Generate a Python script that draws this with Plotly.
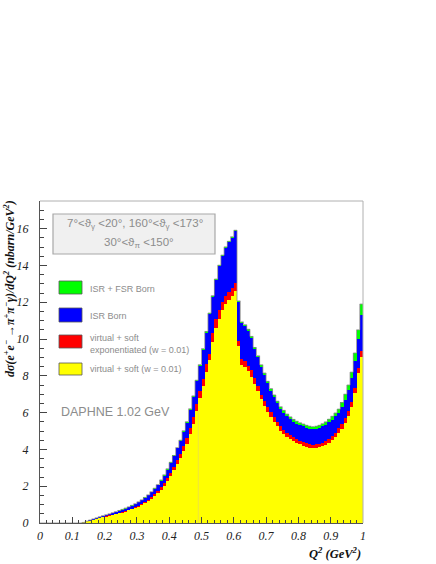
import numpy as np
import plotly.graph_objects as go

# bin layout: 100 bins of width 0.01 on Q^2 in [0, 1]
bin_width = 0.01
q2_centers = [round(0.005 + 0.01 * i, 3) for i in range(100)]

zeros13 = [0.0] * 13

# ISR + FSR Born (green)
isr_fsr_born = zeros13 + [
    0.03, 0.10, 0.16, 0.22, 0.28, 0.34, 0.40, 0.45, 0.50, 0.56,
    0.62, 0.68, 0.74, 0.81, 0.88, 0.96, 1.05, 1.15, 1.26, 1.39,
    1.53, 1.70, 1.89, 2.09, 2.34, 2.62, 2.95, 3.30, 3.67, 4.10,
    4.50, 5.02, 5.51, 6.21, 6.91, 7.76, 8.61, 9.48, 10.41, 11.41,
    12.36, 13.26, 14.01, 14.56, 15.01, 15.31, 15.56, 15.91, 12.07, 10.93,
    10.78, 10.53, 10.14, 9.54, 9.09, 8.60, 8.15, 7.70, 7.31, 6.96,
    6.62, 6.32, 6.12, 5.92, 5.77, 5.63, 5.53, 5.45, 5.38, 5.31,
    5.26, 5.24, 5.26, 5.31, 5.40, 5.50, 5.64, 5.80, 5.98, 6.19,
    6.55, 7.00, 7.50, 8.20, 9.24, 10.50, 11.90]

# ISR Born (blue)
isr_born = zeros13 + [
    0.02, 0.08, 0.14, 0.20, 0.26, 0.32, 0.38, 0.43, 0.48, 0.53,
    0.59, 0.65, 0.71, 0.78, 0.85, 0.93, 1.02, 1.12, 1.23, 1.36,
    1.50, 1.66, 1.85, 2.05, 2.30, 2.58, 2.90, 3.25, 3.62, 4.05,
    4.45, 4.97, 5.45, 6.15, 6.85, 7.70, 8.55, 9.42, 10.35, 11.35,
    12.30, 13.20, 13.95, 14.50, 14.95, 15.25, 15.50, 15.85, 12.00, 10.85,
    10.70, 10.45, 10.05, 9.45, 9.00, 8.50, 8.05, 7.60, 7.20, 6.85,
    6.50, 6.20, 6.00, 5.80, 5.65, 5.50, 5.40, 5.32, 5.25, 5.18,
    5.13, 5.10, 5.12, 5.17, 5.25, 5.35, 5.48, 5.62, 5.80, 5.97,
    6.30, 6.70, 7.24, 7.90, 8.80, 10.00, 11.30]

# virtual + soft exponentiated (red)
virt_soft_exp = zeros13 + [
    0.02, 0.08, 0.13, 0.18, 0.22, 0.27, 0.32, 0.37, 0.41, 0.45,
    0.50, 0.55, 0.60, 0.66, 0.72, 0.78, 0.86, 0.93, 1.03, 1.13,
    1.25, 1.39, 1.55, 1.72, 1.93, 2.16, 2.43, 2.73, 3.05, 3.40,
    3.75, 4.18, 4.60, 5.15, 5.75, 6.45, 7.15, 7.85, 8.62, 9.20,
    10.35, 11.10, 11.55, 12.00, 12.35, 12.55, 12.75, 13.05, 9.90, 8.90,
    8.78, 8.55, 8.30, 7.88, 7.42, 6.97, 6.62, 6.30, 6.02, 5.75,
    5.48, 5.25, 5.05, 4.88, 4.76, 4.67, 4.56, 4.48, 4.38, 4.33,
    4.27, 4.25, 4.28, 4.31, 4.36, 4.43, 4.57, 4.73, 4.90, 5.15,
    5.38, 5.72, 6.10, 6.60, 7.33, 8.40, 9.33]

# virtual + soft (yellow)
virt_soft = zeros13 + [
    0.02, 0.07, 0.12, 0.17, 0.21, 0.26, 0.31, 0.35, 0.39, 0.43,
    0.47, 0.52, 0.57, 0.62, 0.68, 0.74, 0.81, 0.88, 0.97, 1.07,
    1.18, 1.31, 1.46, 1.62, 1.81, 2.03, 2.28, 2.56, 2.86, 3.19,
    3.52, 3.92, 4.31, 4.85, 5.40, 6.08, 6.80, 7.42, 8.20, 8.85,
    9.85, 10.60, 11.10, 11.55, 11.90, 12.10, 12.35, 12.60, 9.60, 8.60,
    8.48, 8.25, 7.95, 7.55, 7.15, 6.72, 6.35, 6.05, 5.78, 5.50,
    5.25, 5.02, 4.84, 4.66, 4.55, 4.45, 4.34, 4.27, 4.18, 4.14,
    4.09, 4.08, 4.10, 4.12, 4.17, 4.24, 4.36, 4.50, 4.66, 4.90,
    5.12, 5.45, 5.82, 6.33, 7.06, 8.15, 9.00]

x_ticks = [0, 0.1, 0.2, 0.3, 0.4, 0.5, 0.6, 0.7, 0.8, 0.9, 1]
x_ticklabels = ["0", "0.1", "0.2", "0.3", "0.4", "0.5", "0.6", "0.7", "0.8", "0.9", "1"]
y_ticks = [0, 2, 4, 6, 8, 10, 12, 14, 16]
y_ticklabels = [str(v) for v in y_ticks]

series = [
    ("ISR + FSR Born", isr_fsr_born, "#00ff00"),
    ("ISR Born", isr_born, "#0000ff"),
    ("virtual + soft exponentiated (w = 0.01)", virt_soft_exp, "#ff0000"),
    ("virtual + soft (w = 0.01)", virt_soft, "#ffff00"),
]

fig = go.Figure()
for name, vals, col in series:
    fig.add_trace(go.Bar(x=q2_centers, y=vals, width=bin_width, name=name,
                         marker=dict(color=col, line=dict(width=0)),
                         showlegend=False))

# outline of the outermost histogram
edges = [round(0.01 * i, 2) for i in range(101)]
fig.add_trace(go.Scatter(x=edges, y=isr_fsr_born + [isr_fsr_born[-1]], mode="lines",
                         line=dict(color="#8a8a8a", width=0.8, shape="hv"),
                         showlegend=False, hoverinfo="skip"))

# faint seam visible inside the yellow area at a bin edge
seam_bin = 49
fig.add_trace(go.Scatter(x=[edges[seam_bin], edges[seam_bin]], y=[0, virt_soft[seam_bin - 1]],
                         mode="lines", line=dict(color="#eadc50", width=0.8),
                         showlegend=False, hoverinfo="skip"))

L, R, T, B = 40, 73, 201, 41
W, H = 436, 564
pw, ph = W - L - R, H - T - B

def px(xp):
    return (xp - L) / pw

def py(yp):
    return (H - B - yp) / ph

tickfont = dict(family="Liberation Serif", size=12, color="#222", style="italic")

fig.update_layout(
    width=W, height=H,
    margin=dict(l=L, r=R, t=T, b=B, pad=0),
    paper_bgcolor="white", plot_bgcolor="white",
    barmode="overlay", bargap=0,
    xaxis=dict(range=[0, 1], tickvals=x_ticks, ticktext=x_ticklabels,
               ticks="inside", ticklen=6, tickcolor="#444", tickwidth=1,
               minor=dict(dtick=0.02, ticks="inside", ticklen=3, tickcolor="#444"),
               showgrid=False, zeroline=False, showline=True, linecolor="#555",
               linewidth=1, tickfont=tickfont, ticklabelstandoff=2),
    yaxis=dict(range=[0, 17.5], tickvals=y_ticks, ticktext=y_ticklabels,
               ticks="inside", ticklen=7, tickcolor="#444", tickwidth=1,
               minor=dict(dtick=0.5, ticks="inside", ticklen=3.5, tickcolor="#444"),
               showgrid=False, zeroline=False, showline=True, linecolor="#555",
               linewidth=1, tickfont=tickfont, ticklabelstandoff=8),
    font=dict(family="Liberation Sans"),
)

shapes = []
# light frame on top and right
shapes.append(dict(type="line", xref="paper", yref="paper", x0=0, x1=1, y0=1, y1=1,
                   line=dict(color="#b0b0b0", width=1)))
shapes.append(dict(type="line", xref="paper", yref="paper", x0=1, x1=1, y0=0, y1=1,
                   line=dict(color="#b0b0b0", width=1)))
# cut box
shapes.append(dict(type="rect", xref="paper", yref="paper",
                   x0=px(53), x1=px(215), y0=py(254), y1=py(214),
                   fillcolor="#f0f0f0", line=dict(color="#a8a8a8", width=1.2), layer="above"))

annotations = []
gray = "#8c8c8c"
annotations.append(dict(xref="paper", yref="paper", x=px(135), y=py(224),
                        text="7°<ϑ<sub>γ</sub> <20°, 160°<ϑ<sub>γ</sub> <173°",
                        showarrow=False, xanchor="center", yanchor="middle",
                        font=dict(family="Liberation Sans", size=11.5, color=gray)))
annotations.append(dict(xref="paper", yref="paper", x=px(139), y=py(243),
                        text="30°<ϑ<sub>π</sub> <150°",
                        showarrow=False, xanchor="center", yanchor="middle",
                        font=dict(family="Liberation Sans", size=11.5, color=gray)))

legend_rows = [
    ("#00ff00", 281, 294, ["ISR + FSR Born"], [289]),
    ("#0000ff", 308, 322, ["ISR Born"], [316]),
    ("#ff0000", 335, 348, ["virtual + soft", "exponentiated (w = 0.01)"], [338, 350]),
    ("#ffff00", 363, 375, ["virtual + soft (w = 0.01)"], [369]),
]
for col, y0, y1, texts, ys in legend_rows:
    shapes.append(dict(type="rect", xref="paper", yref="paper",
                       x0=px(59), x1=px(82), y0=py(y1), y1=py(y0),
                       fillcolor=col, line=dict(color="#555", width=0.8), layer="above"))
    for t, yy in zip(texts, ys):
        annotations.append(dict(xref="paper", yref="paper", x=px(88), y=py(yy),
                                text=t, showarrow=False, xanchor="left", yanchor="middle",
                                font=dict(family="Liberation Sans", size=9, color=gray)))

annotations.append(dict(xref="paper", yref="paper", x=px(59), y=py(412),
                        text="DAPHNE 1.02 GeV", showarrow=False,
                        xanchor="left", yanchor="middle",
                        font=dict(family="Liberation Sans", size=12.5, color=gray)))

annotations.append(dict(xref="paper", yref="paper", x=px(9), y=py(289),
                        text="dσ(e<sup>+</sup>e<sup>−</sup> →π<sup>+</sup>π<sup>−</sup>γ)/dQ<sup>2</sup> (nbarn/GeV<sup>2</sup>)",
                        textangle=-90, showarrow=False, xanchor="center", yanchor="middle",
                        font=dict(family="Liberation Serif", size=12, color="#111",
                                  style="italic", weight="bold")))
annotations.append(dict(xref="paper", yref="paper", x=px(363), y=py(553),
                        text="Q<sup>2</sup> (GeV<sup>2</sup>)", showarrow=False,
                        xanchor="right", yanchor="middle",
                        font=dict(family="Liberation Serif", size=12.5, color="#111",
                                  style="italic", weight="bold")))

fig.update_layout(shapes=shapes, annotations=annotations)
fig.write_html("out.html", config={"displayModeBar": False},
               post_script="document.body.style.margin='0';document.body.style.overflow='hidden';")
